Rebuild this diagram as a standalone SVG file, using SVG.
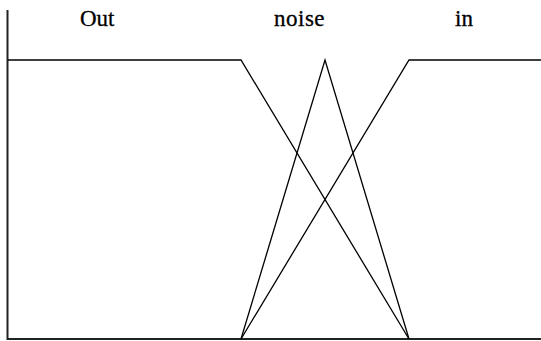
<svg xmlns="http://www.w3.org/2000/svg" width="541" height="341" viewBox="0 0 541 341">
<style>
.ln{fill:none;stroke:#000;stroke-width:1.3}
.ax{fill:none;stroke:#222;stroke-width:2}
.lb{font-family:'Liberation Serif','DejaVu Serif',serif;font-size:23px;fill:#000;stroke:#000;stroke-width:0.3}
</style>
<rect width="541" height="341" fill="#fff"/>
<g id="axes">
<polyline class="ax" points="7.5,10 7.5,339 541,339"/>
</g>
<g id="connectors">
<polyline id="out-curve" class="ln" points="8,60 241,60 409,339"/>
<polyline id="noise-curve" class="ln" points="241,339 325,60 409,339"/>
<polyline id="in-curve" class="ln" points="241,339 409,60 541,60"/>
</g>
<g id="label-out"><text class="lb" x="80" y="26" font-family="Liberation Serif, serif">Out</text></g>
<g id="label-noise"><text class="lb" x="274" y="26" letter-spacing="0.5" font-family="Liberation Serif, serif">noise</text></g>
<g id="label-in"><text class="lb" x="455" y="26" font-family="Liberation Serif, serif">in</text></g>
</svg>
